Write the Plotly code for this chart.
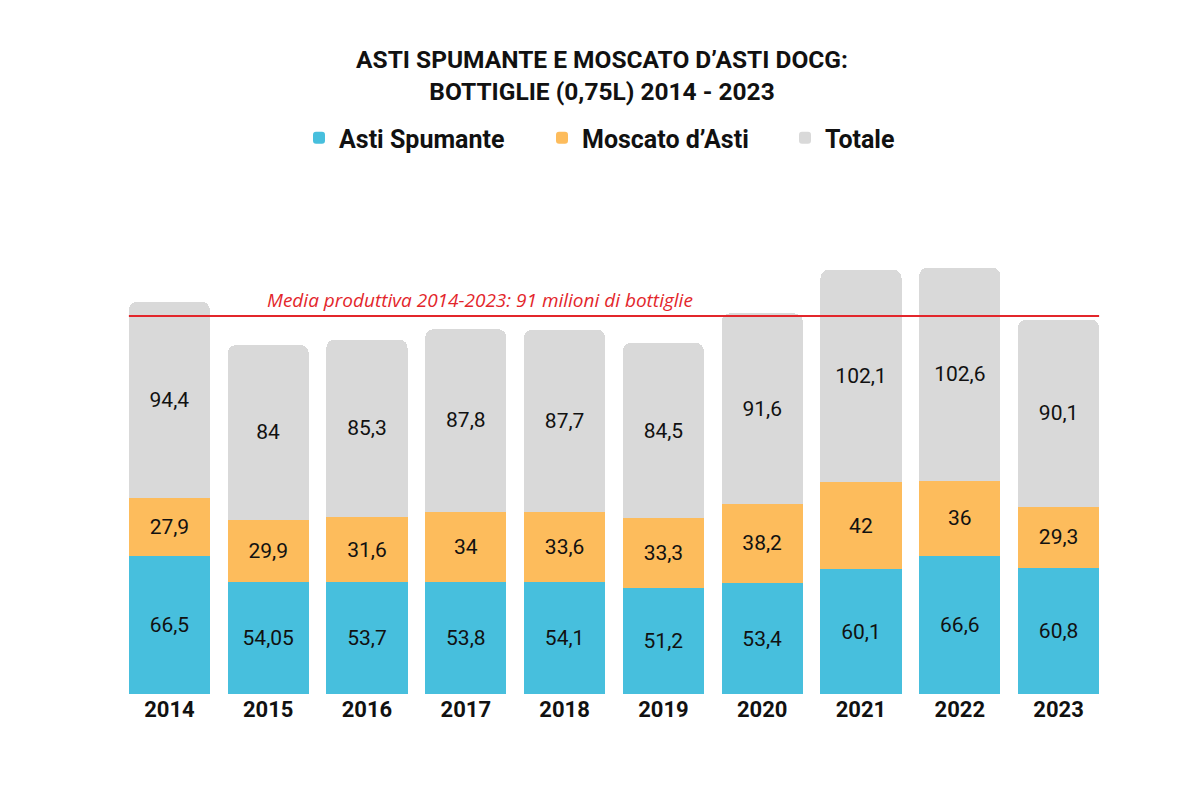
import plotly.graph_objects as go

years = ["2014", "2015", "2016", "2017", "2018", "2019", "2020", "2021", "2022", "2023"]
asti = [66.5, 54.05, 53.7, 53.8, 54.1, 51.2, 53.4, 60.1, 66.6, 60.8]
moscato = [27.9, 29.9, 31.6, 34, 33.6, 33.3, 38.2, 42, 36, 29.3]
totale = [94.4, 84, 85.3, 87.8, 87.7, 84.5, 91.6, 102.1, 102.6, 90.1]

media = sum(totale) / len(totale)
media_label = "Media produttiva 2014-2023: 91 milioni di bottiglie"

def fmt(v):
    return f"{v:g}".replace(".", ",")

C_BLUE = "#47BFDD"
C_ORANGE = "#FDBC5C"
C_GRAY = "#D9D9D9"
LABEL_FONT = dict(family="Roboto, Open Sans, sans-serif", size=21, color="#111111")

fig = go.Figure()
for name, vals, col in [("Asti Spumante", asti, C_BLUE),
                        ("Moscato d\u2019Asti", moscato, C_ORANGE),
                        ("Totale", totale, C_GRAY)]:
    fig.add_trace(go.Bar(
        x=years, y=vals, name=name, marker=dict(color=col, line=dict(width=0)),
        text=[fmt(v) for v in vals], textposition="inside", insidetextanchor="middle",
        textangle=0, textfont=LABEL_FONT, hoverinfo="skip",
    ))

L, R, T, B = 112, 100, 229, 114
PW = 1200 - L - R

fig.add_shape(type="line", xref="x", yref="y", x0=-0.41, x1=len(years) - 1 + 0.41,
              y0=2 * media, y1=2 * media, line=dict(color="#E3262B", width=2))
fig.add_annotation(xref="paper", yref="y", x=(472 - L) / PW, y=2 * media, yshift=1,
                   xanchor="center", yanchor="bottom", showarrow=False,
                   text=media_label,
                   font=dict(family="Open Sans, sans-serif", size=19, color="#E3262B", style="italic"))

fig.update_layout(
    width=1200, height=800,
    barmode="stack", bargap=0.18, barcornerradius=8,
    paper_bgcolor="white", plot_bgcolor="white",
    margin=dict(l=L, r=R, t=T, b=B),
    title=dict(text="ASTI SPUMANTE E MOSCATO D\u2019ASTI DOCG:<br>BOTTIGLIE (0,75L) 2014 - 2023",
               xref="container", x=0.5025 - 9 / 1200, xanchor="center", yref="container",
               y=1 - 60 / 800, yanchor="middle",
               font=dict(family="Roboto, sans-serif", size=24.5, color="#111111", weight="bold")),
    legend=dict(orientation="h", xref="container", x=291 / 1200, xanchor="left",
                yref="container", y=1 - 130 / 800,
                yanchor="middle", font=dict(family="Roboto, sans-serif", size=25, color="#111111", weight="bold"),
                entrywidth=198, itemclick=False, traceorder="normal"),
    showlegend=True,
)
fig.update_xaxes(showgrid=False, showline=False, ticks="",
                 tickfont=dict(family="Roboto, sans-serif", size=22, color="#111111", weight="bold"))
fig.update_yaxes(range=[0, 220], visible=False, showgrid=False)

fig.write_html("out.html")
